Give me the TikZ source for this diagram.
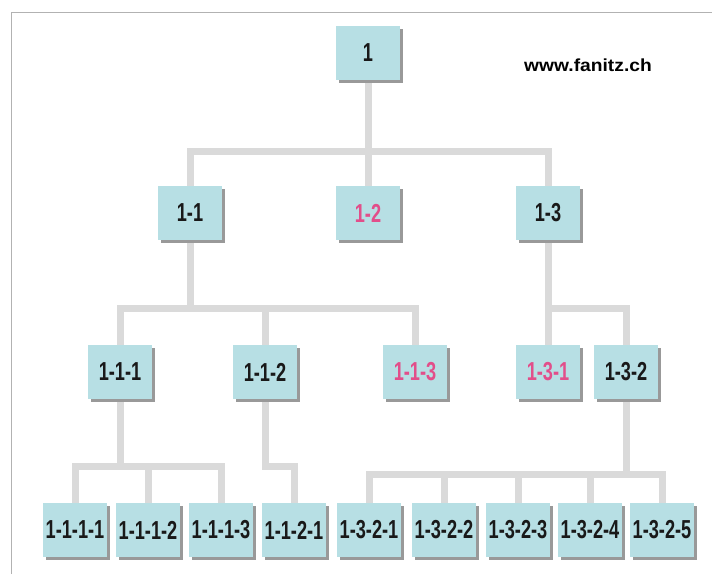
\documentclass[tikz,border=0pt]{standalone}
\usepackage{fontspec}
\setmainfont{Liberation Sans}
\newfontfamily\boxfont[FakeStretch=0.7]{Liberation Sans}
\newfontfamily\webfont[FakeStretch=1.1]{Liberation Sans}
\usetikzlibrary{shadows, backgrounds}
\definecolor{boxblue}{RGB}{183,223,228}
\definecolor{linkgray}{RGB}{218,218,218}
\definecolor{openpink}{RGB}{226,78,138}
\tikzset{%
	unit/.style = { fill=boxblue, minimum width=64pt, minimum height=54pt, inner sep=0pt,
		font=\boxfont\bfseries\fontsize{26}{26}\selectfont, text=black!90,
		drop shadow={shadow xshift=3pt, shadow yshift=-3pt, fill=black!40, opacity=1} },
	open/.style = { unit, text=openpink },
	link/.style = { draw=linkgray, line width=7pt },
	frame/.style = { draw=black!30, line width=1pt }
}

\begin{document}
\begin{tikzpicture}[x=1pt, y=-1pt]
	\useasboundingbox (0,0) rectangle (712,574);
	% 边框
	\draw[frame] (11,574) -- (11,12) -- (712,12);
	\node (site) at (588,65) {\webfont\bfseries\fontsize{17.5}{17.5}\selectfont www.fanitz.ch};
	% 第一层
	\node[unit] (n1) at (368,53) {1};
	% 第二层
	\node[unit] (n11) at (190,213) {1-1};
	\node[open] (n12) at (368,213) {1-2};
	\node[unit] (n13) at (548,213) {1-3};
	% 第三层
	\node[unit] (n111) at (120,372) {1-1-1};
	\node[unit] (n112) at (265,372) {1-1-2};
	\node[open] (n113) at (415,372) {1-1-3};
	\node[open] (n131) at (548,372) {1-3-1};
	\node[unit] (n132) at (626,372) {1-3-2};
	% 第四层
	\node[unit] (n1111) at (75,530) {1-1-1-1};
	\node[unit] (n1112) at (148,530) {1-1-1-2};
	\node[unit] (n1113) at (221,530) {1-1-1-3};
	\node[unit] (n1121) at (294,530) {1-1-2-1};
	\node[unit] (n1321) at (369,530) {1-3-2-1};
	\node[unit] (n1322) at (444,530) {1-3-2-2};
	\node[unit] (n1323) at (518,530) {1-3-2-3};
	\node[unit] (n1324) at (590,530) {1-3-2-4};
	\node[unit] (n1325) at (662,530) {1-3-2-5};
	% 连线
	\coordinate (bus0) at (0,151);
	\coordinate (bus1) at (0,308);
	\coordinate (bus2) at (0,466);
	\coordinate (bus3) at (0,474);
	\begin{scope}[on background layer]
		\draw[link] (n11.north) |- (n1 |- bus0) -| (n13.north);
		\draw[link] (n1.south) -- (n12.north);
		\draw[link] (n111.north) |- (n11 |- bus1) -| (n113.north);
		\draw[link] (n11.south) -- (n11 |- bus1);
		\draw[link] (n112.north) -- (n112 |- bus1);
		\draw[link] (n13.south) -- (n131.north);
		\draw[link] (n13 |- bus1) -| (n132.north);
		\draw[link] (n1111.north) |- (n111 |- bus2) -| (n1113.north);
		\draw[link] (n111.south) -- (n111 |- bus2);
		\draw[link] (n1112.north) -- (n1112 |- bus2);
		\draw[link] (n112.south) |- (n1121 |- bus2) -- (n1121.north);
		\draw[link] (n1321.north) |- (n132 |- bus3) -| (n1325.north);
		\draw[link] (n132.south) -- (n132 |- bus3);
		\draw[link] (n1322.north) -- (n1322 |- bus3);
		\draw[link] (n1323.north) -- (n1323 |- bus3);
		\draw[link] (n1324.north) -- (n1324 |- bus3);
	\end{scope}
\end{tikzpicture}
\end{document}
